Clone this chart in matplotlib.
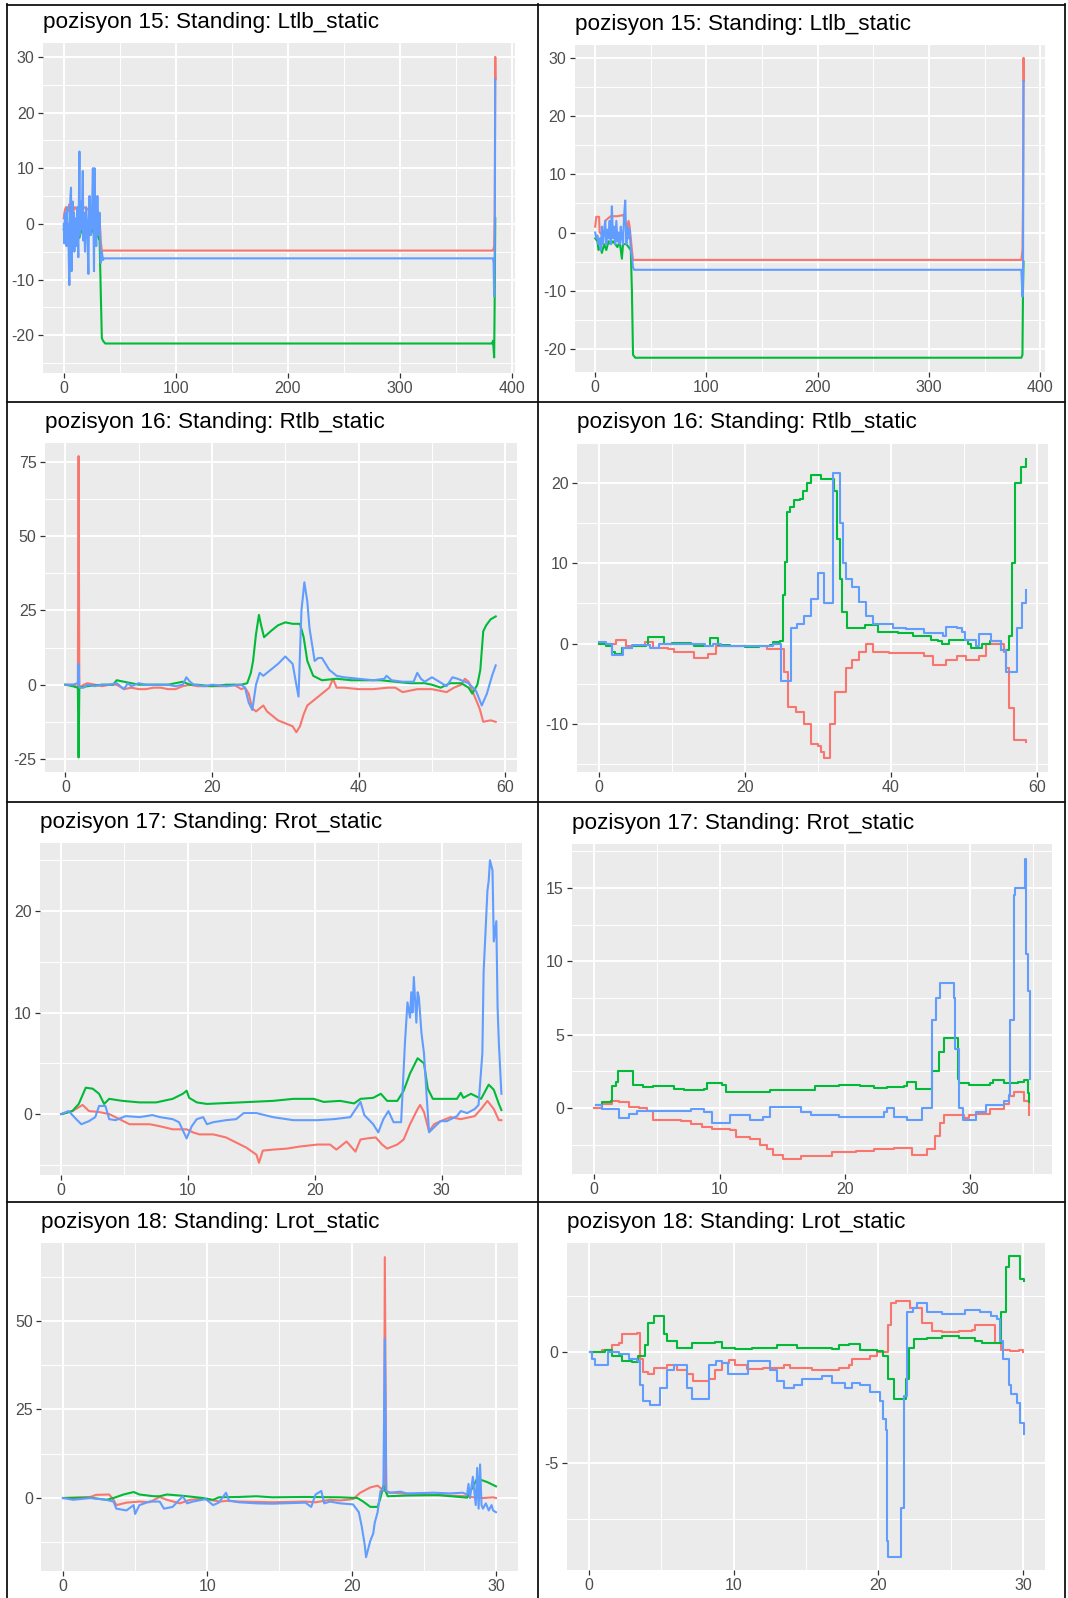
import numpy as np
import matplotlib
matplotlib.use("Agg")
import matplotlib.pyplot as plt
from matplotlib.ticker import MultipleLocator, FixedLocator
from matplotlib.lines import Line2D

W, H = 1068, 1598
plt.rcParams['font.family'] = ['Liberation Sans', 'DejaVu Sans']
plt.rcParams['axes.unicode_minus'] = False

RED, GREEN, BLUE = '#F8766D', '#00BA38', '#619CFF'

titles = [
    "pozisyon 15: Standing: Ltlb_static",
    "pozisyon 16: Standing: Rtlb_static",
    "pozisyon 17: Standing: Rrot_static",
    "pozisyon 18: Standing: Lrot_static",
]

# ---------------- pozisyon 15, sol / sag ----------------
l15_red = [(0, 1), (1, 2.5), (2, 3), (3, 2), (4, 2.5), (5, 3.5), (6, 1), (7, -1), (8, 2), (10, 3),
           (12, 2.5), (14, 3), (16, 2), (18, 3), (20, 2.8), (22, 2.5), (24, 2.8), (26, 3), (28, 2),
           (30, 2.5), (32, 1), (33, -3), (34, -4.8), (383, -4.8), (384, -4), (384.5, 2), (385, 30),
           (385.2, 26)]
l15_green = [(0, -1), (2, -1.5), (4, -1), (6, -3), (8, -1), (10, -2), (12, -1), (14, -2.5), (16, -1),
             (18, -2), (20, -1.5), (22, -1), (24, -2), (26, -1), (28, -1.5), (30, -2), (32, -3),
             (33, -12), (34, -20.5), (35, -21), (37, -21.5), (382, -21.5), (383, -21), (384, -24),
             (384.5, -13), (385, 1)]
l15_blue = [(0, 0), (0.5, -3.5), (1, 2), (1.5, -1), (2, 1), (2.5, -4), (3, 3), (3.5, -2), (4, 0),
            (4.5, -6), (5, -11), (5.5, 2), (6, 5), (6.5, 6.5), (7, -8.5), (7.5, -3), (8, 4), (8.5, -2),
            (9, 2), (9.5, -5), (10, 1), (11, -4), (12, 3), (13, -6), (14, 13), (14.5, -2), (15, 4),
            (16, -1), (17, 9.5), (17.5, -3), (18, 2), (19, -5), (20, 3), (21, -1), (22, -9), (22.5, 1),
            (23, 5), (24, -2), (25, 0), (26, 10), (27, -8.5), (27.5, 10), (28, 3), (29, -4), (30, 5),
            (31, -2), (32, 2), (33, -7), (34, -5), (35, -6.5), (36, -6.2), (383, -6.2), (383.5, -7),
            (384, -13), (384.5, -5), (385, 26)]

r15_red = [(0, 1), (1, 2.7), (3.5, 2.7), (4, 0), (8, -0.5), (9, 2), (12, 2.5), (14, 2.8), (16, 2.8),
           (20, 2.8), (25, 3), (27, 2), (28, 0.5), (30, 2), (31, 1), (33, -3), (34, -4.7), (383, -4.7),
           (384, -3), (384.5, 5), (385, 30), (385.2, 26)]
r15_green = [(0, -1), (2, -1.5), (3, -3), (5, -2.5), (6, -3.5), (8, -2), (10, -3), (12, -1.5), (14, -2),
             (16, -1.5), (18, -2), (20, -2.5), (22, -1.5), (24, -4.5), (25, -2), (28, -2), (30, -2.5),
             (32, -3), (33, -10), (34, -21), (36, -21.5), (383, -21.5), (384, -21), (384.5, -10),
             (385, -5)]
r15_blue = [(0, 0), (1, -1), (2, -0.5), (3, -2), (4, -1), (5, -3), (6, 1), (7, -2), (8, 0), (9, 2),
            (10, -2), (11, 0.5), (12, -1), (13, 2), (14, -2), (15, 4.5), (16, -1), (17, 1), (18, -2),
            (19, 2), (20, -1.5), (21, 0), (22, -2), (23, 1), (24, -1), (25, -2), (26, 3), (27, 5.5),
            (28, -2), (29, 1), (30, -1), (31, 0.5), (32, -3), (33, -4), (34, -6), (35, -6.4),
            (383, -6.4), (384, -11), (384.5, -8), (385, 26)]

# ---------------- pozisyon 16 ----------------
l16_red = [(0, 0), (1, 0), (1.7, -1), (1.8, 77), (1.9, -1), (2.5, 0), (3, 0.5), (4, 0), (5, -0.5),
           (6, 0), (7, 0), (8, -1.5), (9, -1), (10, -1.5), (11, -1.5), (12, -1), (13, -1), (14, -1.5),
           (15, -1.5), (16, -0.5), (17, 0), (18, -0.5), (19, -0.5), (20, -0.5), (21, -0.5), (22, -0.5),
           (23, 0), (24, -1.5), (24.5, -1), (25, -3), (25.5, -8), (26, -9), (27, -7), (27.5, -9),
           (28, -10), (29, -12), (30, -13), (31, -14), (31.5, -16), (32, -14), (32.5, -10), (33, -7),
           (34, -5), (35, -3), (36, -1), (36.5, 2), (37, -1), (38, -1), (40, -1.5), (42, -1.5),
           (44, -1), (45, -1), (46, -2.5), (47, -2), (48, -1.5), (50, -1.5), (51, -2), (52, -2.5),
           (53, -1), (54, 0), (54.5, 2), (55, 1), (55.5, -2), (56, -5), (56.5, -8), (57, -12.5),
           (58, -12), (58.7, -12.5)]
l16_green = [(0, 0), (1, -0.5), (1.7, -1), (1.8, -24.5), (1.9, -1), (3, -0.5), (5, 0), (6.5, 0),
             (7, 1.5), (8, 1), (9, 0.5), (10, 0), (12, 0), (14, 0), (15, 0.5), (16, 1), (17, 0), (18, 0),
             (20, -0.5), (22, 0), (24, 0), (24.8, 0.5), (25.3, 4), (25.6, 8), (26, 17), (26.4, 23.5),
             (26.7, 20), (27.1, 16), (28, 18), (29, 20), (30, 21), (31, 20.5), (32, 20.5), (32.5, 16),
             (33, 8), (33.8, 3), (35, 1.5), (37, 2), (39, 1.5), (41, 1.5), (43, 1.5), (45, 1), (47, 0.5),
             (49, 0.5), (50, 0), (51.2, -1), (52.5, 0.5), (54, 0.5), (55, -1), (55.5, -3), (56.2, 0),
             (56.6, 5), (57, 18), (57.4, 20), (58, 22), (58.7, 23)]
l16_blue = [(0, 0), (1, 0), (1.7, 0.5), (1.8, 7), (1.9, -1), (2.5, -1), (3, 0), (4, -0.5), (5, 0),
            (6, 0), (7, 0.5), (8, -1.5), (8.5, 0.5), (9, -0.5), (10, 0.5), (11, 0), (12, 0), (13, 0),
            (14, 0), (15, -0.5), (16, 0), (16.5, 2.5), (17, 1), (17.5, 0), (19, -0.5), (20, 0),
            (22, -0.5), (24, 0), (24.5, -1), (25, -6), (25.5, -8.5), (26, 0), (26.5, 4), (27, 3),
            (28, 5), (29, 7), (30, 9.5), (31, 7), (31.5, 0), (31.8, -4), (32.2, 25), (32.6, 34.5),
            (33, 28), (33.3, 19), (34, 8), (34.5, 9), (35, 9), (36, 5), (37, 3), (38, 2.5), (40, 2),
            (42, 1.5), (43.5, 2), (43.8, 3), (44.5, 1.5), (46, 1), (47.5, 1), (48, 4), (48.5, 2),
            (49, 1), (50, 2.5), (51, 1), (52, -0.5), (52.8, 2.5), (53.5, 2), (55, 0.5), (56, -2),
            (56.8, -7), (57.5, -3), (58.2, 3), (58.7, 6.5)]

r16_red = [(0, 0), (2.2, 0), (2.4, 0.4), (3.5, 0.4), (3.8, -0.3), (6, -0.3), (6.3, 0.2), (7.5, -0.5),
           (9.5, -0.7), (10.3, -1.1), (12.6, -1.1), (13.1, -1.8), (14.5, -1.8), (15, -1.3), (16, -0.3),
           (21, -0.3), (23, -0.7), (24.9, -0.7), (25.4, -3.5), (25.9, -7.9), (27, -8.5), (28.1, -10),
           (29, -12.5), (30, -12.8), (30.4, -13.5), (30.9, -14.2), (31.4, -14.2), (31.6, -10),
           (32.3, -6), (33.8, -3), (34.7, -2), (35.6, -1), (36.6, 0), (37.5, -1), (39.8, -1.2),
           (42.1, -1.2), (44.5, -1.5), (45.7, -2.7), (47.1, -2.7), (47.6, -2), (49, -1.5), (49.9, -1.5),
           (50.3, -2), (51.6, -2), (52.1, -1.5), (53, 0), (55, 0), (55.5, -1), (55.8, -3), (56.2, -8),
           (56.8, -12), (57.7, -12), (58.5, -12.3)]
r16_green = [(0, 0), (1, -0.3), (1.8, -1), (2.2, -1.3), (3.2, -0.5), (4.5, -0.3), (6.5, -0.2),
             (6.8, 0.8), (8.4, 0.8), (8.9, 0), (10, 0.1), (12.6, 0), (13, -0.3), (15, -0.3), (15.2, 0.7),
             (16, 0.7), (16.3, -0.2), (18, -0.3), (20, -0.4), (22, -0.3), (23.4, -0.2), (23.9, 0.2),
             (24.8, 0.3), (25.2, 6), (25.5, 10.2), (25.8, 16.4), (26.2, 17), (26.7, 17.9), (27.6, 18),
             (28, 19), (28.5, 20), (29.1, 21), (30, 21), (30.5, 20.5), (31.9, 20.5), (32.2, 19),
             (32.6, 13), (33, 8), (33.3, 4), (34, 2), (35.5, 2), (36.5, 2.3), (37.8, 2.3), (38.3, 1.5),
             (41, 1.3), (43, 1), (45.5, 0.5), (46.5, 0.3), (47, 0), (47.5, 0), (48, 0.5), (49.5, 0.5),
             (50.5, 0), (51, -0.5), (52, -0.5), (52.5, 0), (53.5, 0.3), (54.5, 0.3), (55, -0.8),
             (55.8, -0.8), (56.2, 1), (56.6, 10), (57, 20), (57.8, 22), (58.5, 23)]
r16_blue = [(0, 0.2), (1, 0), (1.8, -1.4), (2.8, -1.4), (3.3, -0.5), (4.5, -0.2), (6.8, -0.2),
            (7, -0.6), (7.9, -0.6), (8.3, 0), (14, 0), (14.5, -0.3), (15.2, -0.3), (15.6, 0),
            (16.8, -0.3), (23.4, -0.3), (23.9, 0), (24.6, 0), (25, -4.6), (26, -4.6), (26.3, 1.9),
            (27.2, 2.5), (28.1, 3.5), (29, 5.6), (30, 8.8), (30.6, 8.8), (30.9, 5), (31.8, 5),
            (32.1, 21.2), (33, 21.2), (33.1, 15), (33.4, 10), (33.8, 8), (34.7, 7), (35.6, 5.2),
            (36.6, 3.5), (37.5, 2.5), (38.9, 2.5), (40.3, 2), (42.1, 1.8), (44.5, 1.3), (47.1, 1),
            (47.6, 2.1), (49, 2), (49.7, 1.5), (50.2, 0.5), (51.6, -0.3), (52.1, 1.2), (53.2, 1.2),
            (53.7, 0.3), (55, -0.8), (55.8, -3.5), (56.8, -3.5), (57.2, 2), (57.9, 5), (58.5, 6.7)]

# ---------------- pozisyon 17 ----------------
l17_red = [(0, 0), (0.9, 0.3), (1.7, 0.9), (2.2, 0.3), (3, 0.2), (3.8, 0), (4.6, -0.5), (5.4, -1),
           (7, -1), (7.8, -1.2), (8.8, -1.5), (9.9, -1.5), (10.4, -1.8), (10.9, -2), (12, -2),
           (13, -2.3), (13.8, -2.8), (14.6, -3.3), (15.4, -4), (15.6, -4.8), (15.9, -3.6), (16.7, -3.5),
           (17.8, -3.4), (18.8, -3.2), (20.2, -3), (21.2, -3), (21.7, -3.5), (22.5, -2.7), (23.2, -3.7),
           (23.6, -2.5), (24.1, -2.4), (24.8, -2.3), (25.3, -3), (25.7, -3.4), (26.5, -3), (27, -2.5),
           (27.5, -1), (28.1, 0.5), (28.3, 0.9), (28.6, 0.2), (29, -1.7), (29.4, -1), (29.9, -0.7),
           (30.7, -0.3), (31.5, -0.5), (32.6, -0.2), (33.1, 0.5), (33.6, 1.3), (34.1, 0.5),
           (34.5, -0.6), (34.7, -0.6)]
l17_green = [(0.1, 0), (0.9, 0.3), (1.4, 1), (1.95, 2.6), (2.5, 2.5), (3, 2), (3.4, 1), (3.8, 1.5),
             (4.85, 1.3), (6.2, 1.15), (7.5, 1.15), (8.8, 1.5), (9.6, 2), (9.9, 2.3), (10.1, 1.6),
             (10.7, 1.15), (11.5, 1), (14.1, 1.15), (16.7, 1.3), (18.3, 1.5), (19.9, 1.5), (20.7, 1.2),
             (22, 1.3), (23.1, 1.05), (23.6, 1.5), (24.6, 1.6), (25.2, 2), (25.7, 1.3), (26.5, 1.3),
             (27, 2.3), (27.5, 4), (28.1, 5.5), (28.6, 5), (28.9, 2.5), (29.3, 1.5), (29.9, 1.5),
             (31.2, 1.5), (31.5, 2.1), (31.7, 1.6), (32.3, 2), (33.1, 1.5), (33.7, 2.9), (34.1, 2.4),
             (34.5, 1), (34.7, 0.4)]
l17_blue = [(0, 0), (0.6, 0.3), (1.2, -0.5), (1.6, -1), (2.2, -0.7), (2.7, -0.3), (3, 0.8), (3.5, 0.8),
            (3.8, -0.5), (4.3, -0.6), (5.1, -0.2), (6.2, -0.3), (7.2, -0.1), (7.8, -0.3), (8.8, -0.5),
            (9.3, -0.8), (9.9, -2.4), (10.3, -1.2), (10.7, -0.5), (11.2, -0.3), (11.5, -1), (12, -0.8),
            (13, -0.6), (13.8, -0.5), (14.4, 0.1), (15.4, 0.1), (16.7, -0.3), (18.3, -0.6), (20.2, -0.6),
            (21.5, -0.5), (22.8, -0.3), (23.6, 1.2), (23.9, -0.1), (24.6, -1), (25, -1.8), (25.4, -0.5),
            (25.8, 0.3), (26.2, -0.8), (26.8, -0.8), (27.1, 7), (27.3, 11), (27.5, 9.5), (27.6, 12),
            (27.7, 10), (27.8, 13.5), (28, 9), (28.1, 12), (28.2, 11.5), (28.4, 8), (28.6, 6),
            (28.8, 2), (29, -1.8), (29.4, -1.3), (29.9, -0.7), (30.4, -0.7), (31.2, -0.2), (31.5, 0.3),
            (32, 0.1), (32.6, 0.5), (32.9, 0.9), (33.2, 6), (33.3, 14), (33.6, 22), (33.7, 23),
            (33.8, 25), (34, 24), (34.1, 17), (34.3, 19), (34.4, 10.5), (34.5, 7), (34.7, 2)]

r17_red = [(0, 0), (0.6, 0.3), (1.45, 0.5), (2, 0.4), (2.8, 0.1), (3.6, 0), (4.2, -0.2), (4.7, -0.8),
           (6.4, -0.8), (6.9, -0.9), (7.7, -1.1), (8.6, -1.3), (9.4, -1.45), (10.8, -1.5), (11.3, -2),
           (12.4, -2.1), (13.2, -2.5), (13.8, -2.8), (14.3, -3.2), (15.1, -3.5), (16, -3.5),
           (16.5, -3.3), (18.4, -3.3), (19, -3), (20.9, -2.95), (22.3, -2.8), (23.9, -2.7), (25, -2.7),
           (25.4, -3.2), (26.1, -3.2), (26.6, -2.8), (27.2, -1.9), (27.6, -1), (27.9, -0.5),
           (29.1, -0.5), (29.5, -0.7), (29.9, -0.5), (30.5, -0.4), (31.6, -0.1), (32.7, 0.3),
           (33.1, 0.8), (33.5, 1.1), (34, 1.1), (34.3, 0.5), (34.7, -0.5)]
r17_green = [(0.1, 0.2), (0.6, 0.4), (1.3, 0.5), (1.45, 1.5), (1.7, 1.8), (1.9, 2.5), (2.8, 2.5),
             (3.1, 1.6), (3.9, 1.4), (4.7, 1.5), (6.4, 1.3), (7.2, 1.2), (8.8, 1.3), (9, 1.7),
             (10.2, 1.6), (10.5, 1.1), (14, 1.25), (16.8, 1.2), (17.6, 1.5), (19.5, 1.6), (21.2, 1.5),
             (22.3, 1.35), (23.4, 1.4), (24.7, 1.5), (25, 1.8), (25.5, 1.8), (25.7, 1.3), (26.6, 1.3),
             (27, 2.5), (27.5, 3.8), (27.9, 4.8), (28.8, 4.8), (29, 2), (29.1, 1.7), (29.9, 1.6),
             (31.6, 1.7), (31.8, 1.9), (32.7, 1.7), (33.8, 1.8), (34.3, 1.9), (34.6, 1), (34.7, 0.4)]
r17_blue = [(0.1, 0.2), (0.6, -0.1), (2, -0.7), (2.8, -0.4), (3.4, -0.2), (7.7, -0.1), (8.8, -0.3),
            (9.4, -1), (10.5, -1), (10.8, -0.5), (11.9, -0.5), (12.4, -0.8), (13.5, -0.6), (14, 0.1),
            (15.1, 0.1), (16.5, -0.3), (17.3, -0.5), (19.5, -0.6), (23.1, -0.3), (23.4, 0), (23.9, -0.6),
            (25, -0.8), (25.8, -0.8), (26.2, 0), (26.6, 0), (27, 6), (27.3, 7.5), (27.6, 8.5),
            (28.4, 8.5), (28.7, 7.5), (28.8, 4), (29.1, 0), (29.4, -0.8), (29.8, -0.8), (30.5, -0.3),
            (31.3, 0.2), (32.1, 0.2), (32.7, 0.5), (33.1, 0.9), (33.2, 6), (33.5, 14.5), (33.6, 15),
            (34.3, 15), (34.4, 17), (34.5, 10.5), (34.6, 8), (34.8, 2)]

# ---------------- pozisyon 18 ----------------
l18_red = [(0, 0), (1.9, 0.3), (2.3, 0.9), (3.2, 1), (3.5, -0.5), (3.7, -2), (4.4, -1.3), (5.3, -1),
           (6, -1.2), (6.7, 0.3), (7.2, -0.5), (8.1, -1.5), (8.8, -0.5), (9.7, -0.2), (10.9, -1),
           (11.3, -0.8), (12.2, -1), (14.5, -1.2), (16.8, -1), (17.5, -1.2), (18.5, -0.5), (19.2, -0.7),
           (20.1, -0.3), (20.6, 1.5), (21.3, 3), (21.8, 3.5), (22.25, 2), (22.3, 68), (22.4, 1.5),
           (22.9, 1.5), (23.8, 1.2), (26.1, 0.8), (28, 0.5), (28.2, 0.3), (29.1, 0), (29.8, 0.2),
           (30, 0)]
l18_green = [(0, 0), (1.9, 0.1), (3, -0.5), (3.5, 0), (4.2, 1), (4.9, 1.7), (5.3, 1), (6.3, 0.5),
             (6.7, 0.5), (7.2, 1), (8.1, 0.7), (8.6, 0.5), (9.7, 0), (10.4, -0.5), (10.8, 0.2),
             (12.2, 0.3), (13.4, 0.5), (14.5, 0.2), (16.8, 0.3), (19.2, 0.2), (20.4, 0), (20.8, -1),
             (21.3, -2.5), (21.8, -2.5), (22, 0), (22.2, 3.5), (22.5, 0.5), (23.8, 0.7), (26.1, 0.8),
             (28, 0.1), (28.7, 5.5), (29.4, 4.5), (30, 3.3)]
l18_blue = [(0, 0), (0.7, -0.5), (1.9, 0), (3, -0.5), (3.5, -1), (3.7, -3), (4.4, -3.5), (4.9, -2),
            (5, -4.5), (5.3, -2), (6, -1), (6.7, -1), (7, -3), (7.6, -2.5), (8.3, 0.5), (8.6, -1.5),
            (9, -1), (9.9, -0.3), (10.4, -2), (10.8, -1.3), (11.3, 1.5), (11.5, -0.7), (12.2, -1.2),
            (13.4, -1.5), (14.5, -1.6), (16.8, -1.3), (17.2, -2.5), (17.5, 1), (17.9, 2), (18.1, -1.5),
            (18.5, -1), (19.2, -1.5), (20.1, -1.8), (20.5, -4), (20.7, -8), (20.9, -13), (21, -16.7),
            (21.3, -12), (21.5, -10), (21.6, -7), (21.8, -4), (22, 2), (22.2, 2.5), (22.3, 45),
            (22.4, 2), (22.7, 1.5), (23.4, 1.8), (23.8, 1.3), (25.7, 1.5), (26.8, 1.3), (27.7, 1.5),
            (28, 1), (28.1, 4), (28.2, 0), (28.4, 6), (28.6, -2), (28.7, 8.5), (28.8, -3), (28.9, 9.5),
            (29, -2), (29.1, -3), (29.3, -1.5), (29.5, -3.5), (29.7, -2), (29.8, -3.5), (30, -4)]

r18_red = [(0.1, 0), (0.9, 0.1), (1.6, 0.3), (2.1, 0.4), (2.3, 0.8), (3.3, 0.85), (3.5, -0.3),
           (3.7, -0.9), (4.1, -1), (4.5, -0.7), (5.4, -0.6), (6.1, -0.8), (6.8, -1), (7.2, -1.3),
           (8.3, -1.2), (8.7, -0.8), (9.2, -0.5), (9.7, -0.35), (10.1, -0.6), (10.9, -0.75), (12, -0.7),
           (13.5, -0.6), (13.9, -0.7), (15.4, -0.8), (17.3, -0.7), (18, -0.6), (18.2, -0.3),
           (19.4, -0.2), (19.9, 0), (20.5, 0), (20.7, 1.2), (20.9, 2.2), (21.2, 2.3), (21.8, 2.3),
           (22.2, 2), (23, 1.3), (23.7, 0.95), (24.4, 0.9), (25.6, 0.95), (26.5, 1), (26.7, 1.2),
           (27.8, 1.2), (28.1, 0.4), (28.5, 0.1), (29.1, 0.05), (29.7, 0.1), (30, 0)]
r18_green = [(0.1, 0), (1.1, 0.1), (1.6, -0.2), (2.3, -0.4), (3, -0.45), (3.4, -0.2), (3.9, 0.3),
             (4.1, 1.3), (4.5, 1.6), (4.9, 1.6), (5.2, 0.8), (5.4, 0.5), (6.1, 0.2), (6.8, 0.2),
             (7.1, 0.4), (8.7, 0.45), (9.2, 0.2), (10.1, 0.15), (11.3, 0.2), (13, 0.3), (13.5, 0.3),
             (14.4, 0.2), (16.8, 0.15), (17.3, 0.3), (18, 0.35), (18.7, 0.1), (19.9, 0.05), (20.3, -0.2),
             (20.7, -1.2), (21.1, -2.1), (21.7, -2.1), (21.9, -1.2), (22.1, 0.2), (22.5, 0.6),
             (23.4, 0.65), (24.4, 0.7), (25.6, 0.65), (26.7, 0.5), (27.2, 0.4), (28.3, 0.4),
             (28.5, 1.8), (28.8, 3.8), (29, 4.3), (29.6, 4.3), (29.8, 3.3), (30.1, 3.2)]
r18_blue = [(0.1, 0), (0.2, -0.3), (0.4, -0.6), (1.1, -0.6), (1.3, 0), (2.1, -0.1), (2.8, -0.3),
            (3.3, -0.4), (3.5, -1.5), (3.7, -2.2), (4.2, -2.4), (4.7, -2.4), (4.9, -1.6), (5.4, -0.8),
            (5.9, -0.6), (6.6, -0.6), (6.8, -1.6), (7.1, -2.1), (8, -2.1), (8.3, -0.6), (8.8, -0.4),
            (9.2, -0.5), (9.6, -1), (10.7, -1), (11, -0.4), (12.3, -0.4), (12.5, -0.8), (13, -1.3),
            (13.5, -1.6), (14.2, -1.5), (14.7, -1.2), (16.1, -1.1), (16.8, -1.4), (17.7, -1.6),
            (18.2, -1.4), (18.7, -1.5), (19.4, -1.8), (20.1, -2.2), (20.3, -3), (20.5, -3.5),
            (20.6, -8.5), (20.7, -9.2), (21.5, -9.2), (21.6, -7), (21.8, -2), (22, 1.8), (22.4, 2),
            (22.7, 2.2), (23.4, 1.8), (24.4, 1.7), (25.6, 1.7), (26, 1.9), (27, 1.8), (27.8, 1.6),
            (28.2, 1.5), (28.4, 0.5), (28.6, -0.3), (29, -1.5), (29.2, -1.9), (29.6, -2.3),
            (29.8, -3.2), (30.1, -3.7)]

# panel: (data, xlim, ylim, x major, y major, box in px: left, right, top, bottom)
panels = [
    ((l15_red, l15_green, l15_blue), (-18.5, 402.6), (-26.8, 32.5), 100, 10, (43, 515, 43, 373)),
    ((r15_red, r15_green, r15_blue), (-18.5, 404), (-23.95, 32.2), 100, 10, (574.6, 1044.7, 45, 372)),
    ((l16_red, l16_green, l16_blue), (-2.81, 61.55), (-29.4, 81.4), 20, 25, (44.8, 516.6, 443, 772)),
    ((r16_red, r16_green, r16_blue), (-2.96, 61.5), (-16.0, 25.0), 20, 10, (577, 1048, 443, 772)),
    ((l17_red, l17_green, l17_blue), (-1.63, 36.3), (-6.0, 26.7), 10, 10, (40.3, 521.7, 843, 1175)),
    ((r17_red, r17_green, r17_blue), (-1.76, 36.5), (-4.5, 18.0), 10, 5, (572.2, 1051.5, 844, 1174)),
    ((l18_red, l18_green, l18_blue), (-1.5, 31.5), (-20.6, 72), 10, 25, (41.3, 517.6, 1243, 1571)),
    ((r18_red, r18_green, r18_blue), (-1.52, 31.55), (-9.8, 4.9), 10, 5, (567, 1045.4, 1243, 1570)),
]

fig = plt.figure(figsize=(W / 100, H / 100), dpi=100)
fig.patch.set_facecolor('white')


def midpoints(lo, hi, step):
    start = np.floor(lo / step) * step - step / 2
    vals = np.arange(start, hi + step, step)
    return [v for v in vals if lo <= v <= hi]


for i, (series, xl, yl, xs, ys, box) in enumerate(panels):
    left, right, top, bottom = box
    ax = fig.add_axes([left / W, 1 - bottom / H, (right - left) / W, (bottom - top) / H])
    ax.set_facecolor('#EBEBEB')
    for s in ax.spines.values():
        s.set_visible(False)
    # sag sutun (filtrelenmis) basamakli gorunuyor
    ds = 'steps-post' if i % 2 == 1 and i > 1 else 'default'
    for data, col in zip(series, (RED, GREEN, BLUE)):
        arr = np.array(data, dtype=float)
        ax.plot(arr[:, 0], arr[:, 1], color=col, lw=1.5, drawstyle=ds,
                solid_joinstyle='round', zorder=3)
    ax.set_xlim(*xl)
    ax.set_ylim(*yl)
    ax.xaxis.set_major_locator(MultipleLocator(xs))
    ax.yaxis.set_major_locator(MultipleLocator(ys))
    ax.xaxis.set_minor_locator(FixedLocator(midpoints(xl[0], xl[1], xs)))
    ax.yaxis.set_minor_locator(FixedLocator(midpoints(yl[0], yl[1], ys)))
    ax.grid(which='major', color='white', lw=1.4, zorder=1)
    ax.grid(which='minor', color='white', lw=0.7, zorder=1)
    ax.set_axisbelow(True)
    ax.tick_params(which='major', length=3.5, width=0.9, color='#333333', labelcolor='#4D4D4D',
                   labelsize=11.5, pad=2.5)
    ax.tick_params(which='minor', length=0)
    ax.set_title(titles[i // 2], loc='left', fontsize=16.2, color='black', pad=10.5)

# cell borders
for x in (7, 538, 1065):
    fig.add_artist(Line2D([x / W, x / W], [0, 1 - 4 / H], color='#111111', lw=1.3))
for y in (5, 402, 802, 1202):
    fig.add_artist(Line2D([7 / W, 1065 / W], [1 - y / H, 1 - y / H], color='#111111', lw=1.3))

fig.savefig('out.png', dpi=100, facecolor='white')
